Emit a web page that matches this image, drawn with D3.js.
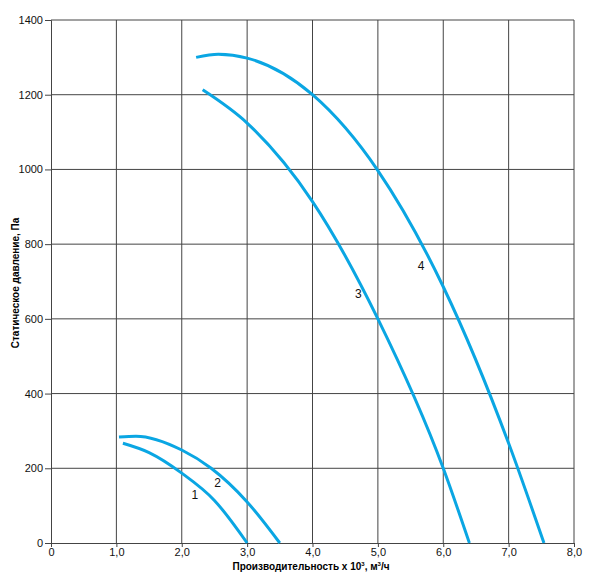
<!DOCTYPE html>
<html lang="ru">
<head>
<meta charset="UTF-8">
<title>Chart</title>
<script src="https://cdn.jsdelivr.net/npm/d3@7"></script>
<style>
  body { margin: 0; background: #fff; }
  text { font-family: "Liberation Sans", Arial, sans-serif; }
</style>
</head>
<body>
<div class="chart"></div>
<script>
// data: x = производительность (x10^3 м3/ч), y = давление (Па)
const curve1X = [1.10, 1.50, 2.00, 2.50, 3.00]
const curve1Y = [267, 242, 187, 114, 0]
const curve2X = [1.04, 1.30, 2.00, 2.45, 3.00, 3.50]
const curve2Y = [284, 286, 249, 200, 110, 0]
const curve3X = [2.32, 3.00, 4.00, 5.00, 6.00, 6.40]
const curve3Y = [1213, 1124, 914, 600, 200, 0]
const curve4X = [2.22, 2.56, 3.00, 4.00, 5.00, 6.00, 7.00, 7.54]
const curve4Y = [1300, 1308, 1298, 1200, 997, 686, 267, 0]
const curveNames = ['1', '2', '3', '4']
// label anchor values (x, y in data units)
const labelX = [2.2, 2.55, 4.7, 5.66]
const labelY = [125, 158, 665, 740]

const xTicks = [0, 1, 2, 3, 4, 5, 6, 7, 8]
const yTicks = [0, 200, 400, 600, 800, 1000, 1200, 1400]

const W = 600, H = 583
const mLeft = 51, mRight = 574, mTop = 20, mBottom = 543

let svg = d3.select('.chart').append('svg').attr('width', W).attr('height', H)
let xScale = d3.scaleLinear().domain([0, 8]).range([mLeft, mRight])
let yScale = d3.scaleLinear().domain([0, 1400]).range([mBottom, mTop])

// grid
let grid = svg.append('g')
grid.selectAll('.vx').data(xTicks.slice(1)).enter().append('line')
    .attr('x1', d => xScale(d)).attr('x2', d => xScale(d))
    .attr('y1', mTop).attr('y2', mBottom)
    .attr('stroke', '#444').attr('stroke-width', 1)
grid.selectAll('.hy').data(yTicks.slice(1)).enter().append('line')
    .attr('x1', mLeft).attr('x2', mRight)
    .attr('y1', d => yScale(d)).attr('y2', d => yScale(d))
    .attr('stroke', '#444').attr('stroke-width', 1)

// axes
let fmt = d => d === 0 ? '0' : d3.format('.1f')(d).replace('.', ',')
let xAxis = d3.axisBottom(xScale).tickValues(xTicks).tickFormat(fmt).tickSize(4).tickPadding(1)
let yAxis = d3.axisLeft(yScale).tickValues(yTicks).tickFormat(d => d).tickSize(6).tickPadding(2)
let gx = svg.append('g').attr('transform', 'translate(0,' + mBottom + ')').call(xAxis)
let gy = svg.append('g').attr('transform', 'translate(' + mLeft + ',0)').call(yAxis)
;[gx, gy].forEach(g => {
    g.select('.domain').attr('stroke', '#444')
    g.selectAll('.tick line').attr('stroke', '#444')
    g.selectAll('text').attr('font-size', 11).attr('fill', '#111')
        .attr('font-family', '"Liberation Sans", Arial, sans-serif')
})

// curves
let line = d3.line().x(d => xScale(d[0])).y(d => yScale(d[1])).curve(d3.curveMonotoneX)
let series = [[curve1X, curve1Y], [curve2X, curve2Y], [curve3X, curve3Y], [curve4X, curve4Y]]
series.forEach(s => {
    let pts = s[0].map((x, i) => [x, s[1][i]])
    svg.append('path').datum(pts).attr('d', line)
        .attr('fill', 'none').attr('stroke', '#0aa6e3').attr('stroke-width', 3)
        .attr('stroke-linecap', 'butt')
})

// curve labels
svg.selectAll('.lbl').data(curveNames).enter().append('text')
    .attr('x', (d, i) => xScale(labelX[i])).attr('y', (d, i) => yScale(labelY[i]))
    .attr('text-anchor', 'middle').attr('dominant-baseline', 'middle')
    .attr('font-size', 12).attr('fill', '#111').text(d => d)

// axis titles
svg.append('text').attr('x', 311).attr('y', 570)
    .attr('text-anchor', 'middle').attr('font-size', 10).attr('font-weight', 'bold')
    .html('Производительность x 10<tspan dy="-4" font-size="6">3</tspan><tspan dy="4">, м</tspan><tspan dy="-4" font-size="6">3</tspan><tspan dy="4">/ч</tspan>')
svg.append('text').attr('transform', 'translate(19,283) rotate(-90)')
    .attr('text-anchor', 'middle').attr('font-size', 10).attr('font-weight', 'bold')
    .text('Статическое давление, Па')
</script>
</body>
</html>
